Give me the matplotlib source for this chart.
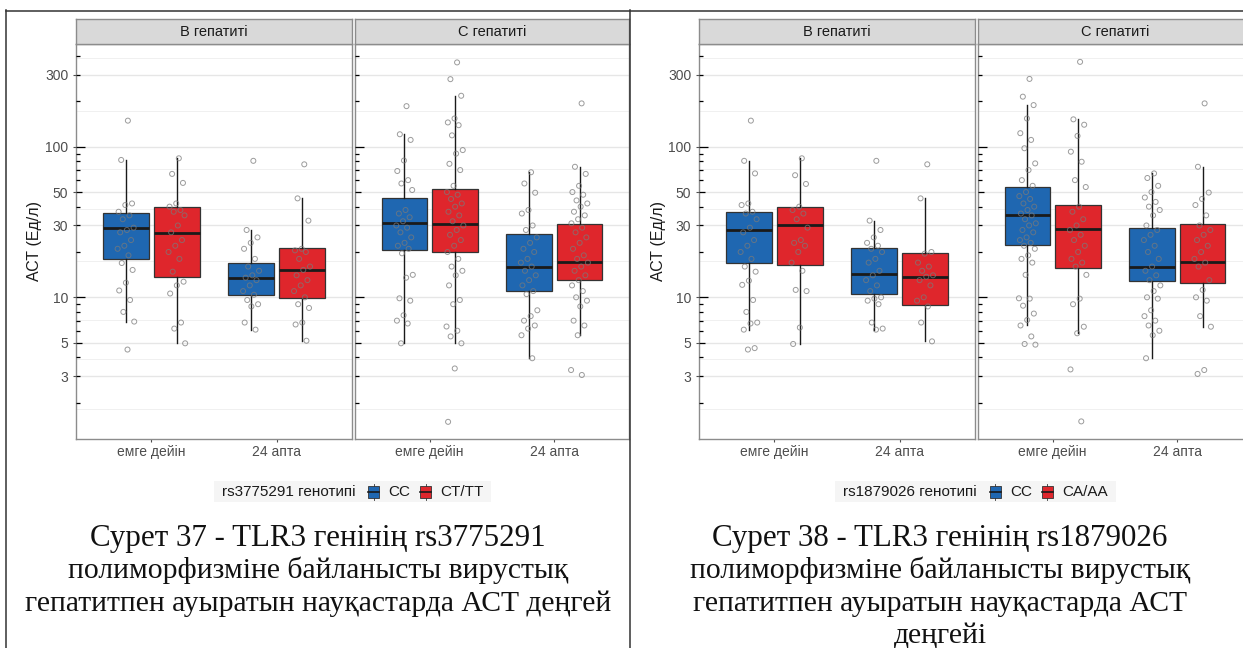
import matplotlib
matplotlib.use("Agg")
import matplotlib.pyplot as plt
from matplotlib.patches import Rectangle
from matplotlib.lines import Line2D
from matplotlib.ticker import NullFormatter

W, H = 1243, 648
SANS = ['Liberation Sans', 'DejaVu Sans']
SERIF = ['Liberation Serif', 'DejaVu Serif']

# ---------------------------------------------------------------- data
facets = ["В гепатиті", "С гепатиті"]
timepoints = ["емге дейін", "24 апта"]
y_breaks = [3, 5, 10, 30, 50, 100, 300]
y_minor = [1.8, 3.87, 7.07, 17.3, 38.7, 70.7, 173, 387]
colors = ["#1F67B1", "#DF262C"]

# TLR3 rs3775291 (genotypes CC, CT/TT); order: B-before, B-24w, C-before, C-24w
snp1_name = "rs3775291 генотипі"
snp1_genotypes = ["CC", "CT/TT"]
snp1_q1 = [17.9, 13.7, 10.4, 9.85, 20.6, 20.0, 11.0, 13.0]
snp1_med = [29.0, 26.8, 13.5, 15.2, 31.0, 30.5, 16.0, 17.2]
snp1_q3 = [36.5, 39.6, 16.8, 21.1, 45.8, 52.4, 26.3, 30.5]
snp1_lo = [6.9, 4.95, 6.1, 5.15, 4.95, 4.95, 3.94, 5.6]
snp1_hi = [81.7, 83.8, 28.0, 45.4, 121, 218, 67.7, 73.6]

snp1_B_pre_CC = [149, 81.7, 42, 41, 37, 35, 33, 29, 28, 27, 24, 22, 21, 19, 16.9, 15.2,
                 12.5, 11.1, 9.6, 8.0, 6.9, 4.5]
snp1_B_pre_CT = [83.8, 66, 57.5, 42, 40, 38, 37, 35, 30, 27, 24, 22, 20, 18, 14.8, 12.7,
                 12, 10.6, 6.8, 6.2, 4.95]
snp1_B_24_CC = [80.6, 28, 25, 23, 21, 18, 16, 15, 14, 13.5, 13, 12, 11, 10.4, 9.6, 9, 8.7,
                6.8, 6.1]
snp1_B_24_CT = [76.4, 45.4, 32.3, 21, 20.5, 20, 18, 16, 15.2, 14, 13, 12, 11, 10, 9, 8.5,
                6.8, 6.6, 5.15]
snp1_C_pre_CC = [186, 121, 111, 81, 69, 60, 57, 51.6, 38, 36, 34, 32, 30, 29, 27, 25, 23, 22,
                 21, 19.6, 14.1, 13.5, 9.85, 9.5, 7.6, 7.0, 6.7, 4.95]
snp1_C_pre_CT = [363, 281, 218, 154, 145, 139, 119, 95, 90, 77, 70, 55, 50, 48, 45, 42, 40, 37,
                 35, 32, 30, 28, 26, 24, 22, 20, 18, 16, 15, 14, 12, 9.6, 9, 6.4, 6.0, 5.5,
                 4.95, 3.37, 1.49]
snp1_C_24_CC = [67.7, 57, 49.5, 38, 36, 30, 28, 25, 23, 21, 20, 18, 17, 16, 15, 14, 13, 12,
                11, 10.5, 8.2, 7.5, 7, 6.5, 6.2, 5.6, 3.94]
snp1_C_24_CT = [194, 73.6, 66, 55, 50, 48, 44, 42, 40, 37, 35, 33, 31, 29, 27, 25, 23, 21, 19,
                18, 17, 16, 15, 14, 13, 12, 11, 10, 9.5, 8.7, 7, 6.5, 5.6, 3.29, 3.05]

# TLR3 rs1879026 (genotypes CC, CA/AA)
snp2_name = "rs1879026 генотипі"
snp2_genotypes = ["CC", "CA/AA"]
snp2_q1 = [17.0, 16.4, 10.5, 8.9, 22.2, 15.6, 12.8, 12.5]
snp2_med = [28.0, 30.2, 14.3, 13.7, 35.2, 28.3, 15.8, 17.2]
snp2_q3 = [37.0, 39.6, 21.1, 19.6, 53.7, 41.0, 29.0, 30.5]
snp2_lo = [6.1, 4.9, 6.1, 5.1, 6.5, 5.77, 3.94, 6.38]
snp2_hi = [80.6, 83.8, 32.3, 45.4, 189, 152, 66.5, 73.6]

snp2_B_pre_CC = [149, 80.6, 66.5, 42, 41, 37, 36, 33, 29, 27, 24, 22, 20, 18, 16, 14.8, 12.9,
                 12.1, 9.6, 8.0, 6.8, 6.7, 6.1, 4.6, 4.5]
snp2_B_pre_CA = [83.8, 64.7, 56.6, 40, 38, 36, 33, 29, 24, 23, 22, 20, 17, 15, 11.2, 11, 6.3,
                 4.9]
snp2_B_24_CC = [80.6, 32.3, 28, 25, 23, 22, 21, 20, 18, 17, 15, 14, 13, 12, 11, 10, 9.8, 9.5,
                9, 6.8, 6.2, 6.1]
snp2_B_24_CA = [76.4, 45.4, 20, 19.5, 17, 16, 15, 14, 13.7, 13, 12, 10, 9.5, 8.7, 6.8, 5.1]
snp2_C_pre_CC = [282, 215, 189, 154, 123, 111, 97.7, 77.5, 70, 60, 55, 50, 47, 45, 42, 40, 38,
                 36, 35, 33, 31, 30, 28, 27, 25, 24, 23, 22, 21, 19, 18, 17, 14.1, 9.85, 9.8,
                 8.8, 7.8, 7.07, 6.5, 5.5, 4.9, 4.85]
snp2_C_pre_CA = [366, 152, 140, 118, 92.7, 79.5, 60, 54, 40, 37, 33, 30, 28, 26, 24, 22, 20,
                 18, 17, 16, 14.1, 9.8, 9, 6.38, 5.77, 3.32, 1.5]
snp2_C_24_CC = [66.5, 62, 55, 50, 46, 43, 40, 38, 35, 30, 28, 26, 24, 22, 20, 18, 16, 15, 14,
                13, 12, 11, 10, 9.8, 8.2, 7.5, 7, 6.5, 6, 5.6, 3.94]
snp2_C_24_CA = [194, 73.6, 49.6, 45, 41, 35, 30, 28, 26, 24, 22, 20, 18, 17, 16, 13, 11.2, 10,
                9.5, 7.5, 6.38, 3.29, 3.1]

caption1 = ["Сурет 37 - TLR3 генінің rs3775291",
            "полиморфизміне байланысты вирустық",
            "гепатитпен ауыратын науқастарда АСТ деңгей"]
caption2 = ["Сурет 38 - TLR3 генінің rs1879026",
            "полиморфизміне байланысты вирустық",
            "гепатитпен ауыратын науқастарда АСТ",
            "деңгейі"]

snp1_points = [snp1_B_pre_CC, snp1_B_pre_CT, snp1_B_24_CC, snp1_B_24_CT,
               snp1_C_pre_CC, snp1_C_pre_CT, snp1_C_24_CC, snp1_C_24_CT]
snp2_points = [snp2_B_pre_CC, snp2_B_pre_CA, snp2_B_24_CC, snp2_B_24_CA,
               snp2_C_pre_CC, snp2_C_pre_CA, snp2_C_24_CC, snp2_C_24_CA]

# ---------------------------------------------------------------- layout
YLIM = (1.146, 481)
DODGE = 0.203
BOX_W = 0.363
JITTER = 0.07
GRID_MAJOR = "#E6E6E6"
GRID_MINOR = "#F0F0F0"
BORDER = "#8C8C8C"
TXT = "#4D4D4D"

fig = plt.figure(figsize=(W / 100, H / 100), dpi=100)
fig.patch.set_facecolor("white")


def px_rect(l, t, r, b):
    return [l / W, 1 - b / H, (r - l) / W, (b - t) / H]


def jitter_offsets(n):
    # evenly spread, deterministic horizontal offsets
    return [JITTER * ((((i + 1) * 0.6180339887) % 1.0) * 2 - 1) for i in range(n)]


def log_ticks(ax, width_px):
    for decade in (1, 10, 100):
        for m in range(1, 10):
            v = m * decade
            if not (YLIM[0] <= v <= YLIM[1]):
                continue
            ln = 9 if m == 1 else (6 if m == 5 else 3.5)
            ax.plot([0, ln / width_px], [v, v], color="black", lw=0.9,
                    transform=ax.get_yaxis_transform(), zorder=5, clip_on=False,
                    solid_capstyle="butt")


def draw_chart(x0, q1, med, q3, lo, hi, points):
    panels = [(76, 352), (355, 629)]
    for k, (pl, pr) in enumerate(panels):
        ax = fig.add_axes(px_rect(x0 + pl, 44, x0 + pr, 439))
        ax.set_yscale("log")
        ax.set_ylim(*YLIM)
        ax.set_xlim(0.4, 2.6)
        ax.set_facecolor("white")
        ax.set_axisbelow(True)
        for sp in ax.spines.values():
            sp.set_color(BORDER)
            sp.set_linewidth(1.0)
        ax.set_yticks(y_breaks)
        ax.set_yticks(y_minor, minor=True)
        ax.yaxis.set_minor_formatter(NullFormatter())
        ax.grid(which="major", axis="y", color=GRID_MAJOR, lw=1.0)
        ax.grid(which="minor", axis="y", color=GRID_MINOR, lw=0.7)
        ax.tick_params(axis="y", which="minor", length=0)
        if k == 0:
            ax.set_yticklabels([str(b) for b in y_breaks])
            ax.tick_params(axis="y", which="major", length=2.5, width=0.8,
                           color=TXT, pad=3.0, labelsize=10, labelcolor=TXT)
        else:
            ax.tick_params(axis="y", which="major", length=0, labelleft=False)
        ax.set_xticks([1, 2])
        ax.set_xticklabels(timepoints)
        ax.tick_params(axis="x", length=2.2, width=0.8, color=TXT, pad=2.0,
                       labelsize=10, labelcolor=TXT)
        for lab in ax.get_xticklabels() + ax.get_yticklabels():
            lab.set_fontfamily(SANS)

        for t in range(2):
            for j in range(2):
                g = k * 4 + t * 2 + j
                pos = t + 1 + (DODGE if j else -DODGE)
                st = dict(med=med[g], q1=q1[g], q3=q3[g], whislo=lo[g], whishi=hi[g],
                          fliers=[])
                ax.bxp([st], positions=[pos], widths=BOX_W, patch_artist=True,
                       showcaps=False, showfliers=False,
                       boxprops=dict(facecolor=colors[j], edgecolor="#333333", lw=0.9),
                       medianprops=dict(color="#1A1A1A", lw=2.0, solid_capstyle="butt"),
                       whiskerprops=dict(color="#1A1A1A", lw=1.0),
                       manage_ticks=False, zorder=2)
                vals = points[g]
                xs = [pos + o for o in jitter_offsets(len(vals))]
                ax.scatter(xs, vals, s=13, facecolors="none", edgecolors="#7A7A7A",
                           linewidths=0.7, alpha=0.75, zorder=4)
        log_ticks(ax, pr - pl)

        sax = fig.add_axes(px_rect(x0 + pl, 19, x0 + pr, 44))
        sax.set_facecolor("#D9D9D9")
        sax.set_xticks([])
        sax.set_yticks([])
        for sp in sax.spines.values():
            sp.set_color(BORDER)
            sp.set_linewidth(1.0)
        sax.text(0.5, 0.5, facets[k], ha="center", va="center", fontsize=10.5,
                 color="#1A1A1A", family=SANS, transform=sax.transAxes)

    fig.text((x0 + 35) / W, 1 - 241.5 / H, "АСТ (Ед/л)", rotation=90, ha="center",
             va="center", fontsize=11.5, color="#1A1A1A", family=SANS)


draw_chart(0, snp1_q1, snp1_med, snp1_q3, snp1_lo, snp1_hi, snp1_points)
draw_chart(623, snp2_q1, snp2_med, snp2_q3, snp2_lo, snp2_hi, snp2_points)

# ---------------------------------------------------------------- overlay (pixel coords)
ov = fig.add_axes([0, 0, 1, 1], zorder=10)
ov.set_xlim(0, W)
ov.set_ylim(H, 0)
ov.axis("off")
ov.patch.set_alpha(0)

renderer = fig.canvas.get_renderer()
LEG_FS = 11


def draw_legend(cx, cy, title, labels):
    t = ov.text(0, cy, title, ha="left", va="center", fontsize=LEG_FS, color="#1A1A1A",
                family=SANS)
    title_w = t.get_window_extent(renderer).width
    labs = [ov.text(0, cy, lab, ha="left", va="center", fontsize=LEG_FS, color="#1A1A1A",
                    family=SANS) for lab in labels]
    lab_w = [tt.get_window_extent(renderer).width for tt in labs]
    key_w, gap_tk, gap_kl, gap_lk = 11, 13, 9, 10
    total = title_w + gap_tk + key_w + gap_kl + lab_w[0] + gap_lk + key_w + gap_kl + lab_w[1]
    x = cx - total / 2
    ov.add_patch(Rectangle((x - 8, cy - 10.5), total + 16, 21, facecolor="#F5F5F5",
                           edgecolor="none", zorder=0))
    t.set_x(x)
    x += title_w + gap_tk
    for j in range(2):
        ov.add_patch(Rectangle((x, cy - 6), key_w, 12, facecolor=colors[j],
                               edgecolor="#333333", lw=0.6, zorder=2))
        ov.add_line(Line2D([x + key_w / 2, x + key_w / 2], [cy - 8, cy + 8],
                           color="#333333", lw=0.6, zorder=1))
        ov.add_line(Line2D([x, x + key_w], [cy, cy], color="#1A1A1A", lw=1.2, zorder=3))
        x += key_w + gap_kl
        labs[j].set_x(x)
        x += lab_w[j] + gap_lk


draw_legend(352.5, 491.5, snp1_name, snp1_genotypes)
draw_legend(975.5, 491.5, snp2_name, snp2_genotypes)

CAP_BASE = 546
CAP_STEP = 32.5
for caption, cx in ((caption1, 318), (caption2, 940)):
    for i, line in enumerate(caption):
        ov.text(cx, CAP_BASE + CAP_STEP * i, line, ha="center", va="baseline",
                fontsize=22.3 if i == 0 else 21.3, color="#111111", family=SERIF)

# table borders
bc = "#333333"
ov.add_line(Line2D([6, W], [10.5, 10.5], color=bc, lw=1.1))
ov.add_line(Line2D([6.5, 6.5], [10, H], color=bc, lw=1.1))
ov.add_line(Line2D([630.5, 630.5], [10, H], color=bc, lw=1.1))

fig.savefig("out.png", dpi=100, facecolor="white")
